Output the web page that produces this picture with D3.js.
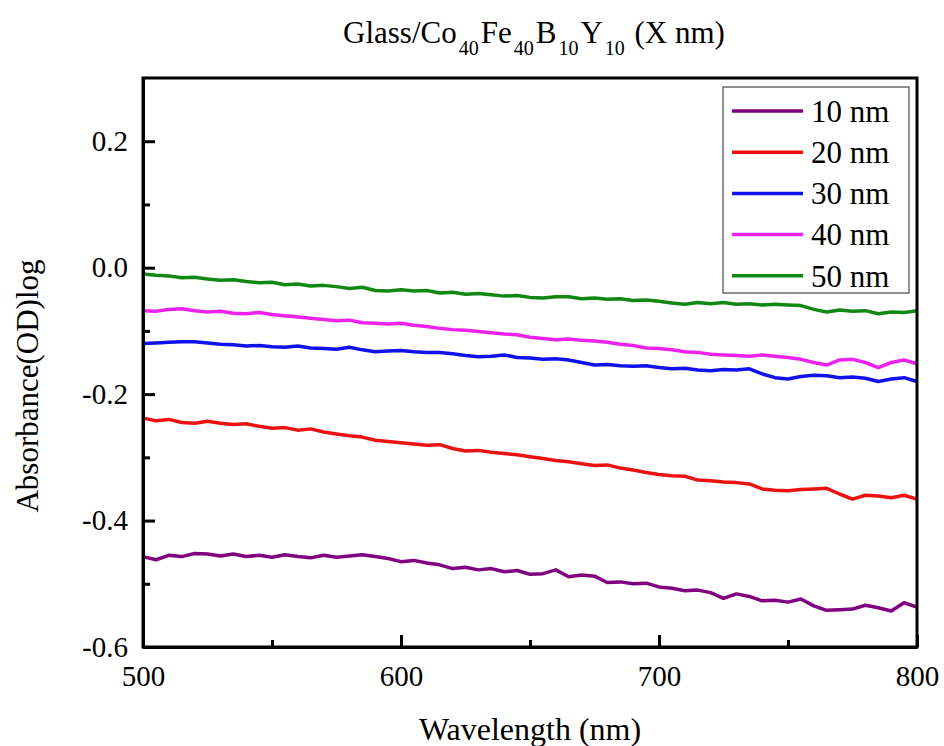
<!DOCTYPE html>
<html lang="en">
<head>
  <meta charset="UTF-8">
  <title>Glass/CoFeBY absorbance</title>
  <style>
    body { margin: 0; background: #fff; }
  </style>
</head>
<body>
  <svg id="svg" width="944" height="746"></svg>

  <script src="https://d3js.org/d3.v7.min.js"></script>
  <script>
    // wavelength grid (nm), 5 nm steps
    const wavelengths = d3.range(500, 801, 5)

    const labels = ['10 nm', '20 nm', '30 nm', '40 nm', '50 nm']
    const colors = ['#800080', '#ee1111', '#1111ee', '#ee22ee', '#118811']

    const abs10 = [-0.457, -0.462, -0.455, -0.457, -0.452, -0.453, -0.456, -0.453, -0.457, -0.455,
      -0.458, -0.454, -0.457, -0.459, -0.455, -0.458, -0.456, -0.454, -0.457, -0.460,
      -0.465, -0.463, -0.467, -0.470, -0.476, -0.474, -0.478, -0.476, -0.481, -0.479,
      -0.485, -0.484, -0.478, -0.489, -0.486, -0.488, -0.498, -0.497, -0.500, -0.499,
      -0.505, -0.507, -0.511, -0.510, -0.514, -0.523, -0.516, -0.520, -0.527, -0.526,
      -0.529, -0.524, -0.535, -0.542, -0.541, -0.540, -0.534, -0.538, -0.543, -0.530, -0.537]

    const abs20 = [-0.238, -0.242, -0.240, -0.245, -0.246, -0.243, -0.246, -0.248, -0.247, -0.251,
      -0.254, -0.253, -0.257, -0.255, -0.260, -0.263, -0.266, -0.268, -0.273, -0.275,
      -0.277, -0.279, -0.281, -0.280, -0.286, -0.290, -0.289, -0.292, -0.294, -0.296,
      -0.299, -0.302, -0.305, -0.307, -0.310, -0.313, -0.312, -0.317, -0.320, -0.324,
      -0.327, -0.329, -0.330, -0.336, -0.337, -0.339, -0.340, -0.342, -0.350, -0.352,
      -0.353, -0.351, -0.350, -0.349, -0.358, -0.366, -0.360, -0.361, -0.364, -0.360, -0.366]

    const abs30 = [-0.120, -0.119, -0.118, -0.117, -0.117, -0.119, -0.121, -0.122, -0.124, -0.123,
      -0.125, -0.126, -0.124, -0.127, -0.128, -0.129, -0.126, -0.130, -0.133, -0.132,
      -0.131, -0.133, -0.134, -0.134, -0.136, -0.139, -0.141, -0.140, -0.138, -0.142,
      -0.143, -0.145, -0.144, -0.146, -0.150, -0.154, -0.153, -0.155, -0.156, -0.155,
      -0.158, -0.160, -0.159, -0.162, -0.163, -0.161, -0.162, -0.160, -0.168, -0.174,
      -0.176, -0.172, -0.170, -0.171, -0.174, -0.173, -0.175, -0.180, -0.176, -0.174, -0.180]

    const abs40 = [-0.068, -0.069, -0.066, -0.065, -0.068, -0.070, -0.069, -0.072, -0.073, -0.071,
      -0.074, -0.076, -0.078, -0.080, -0.082, -0.084, -0.083, -0.087, -0.088, -0.089,
      -0.088, -0.091, -0.093, -0.096, -0.098, -0.099, -0.101, -0.103, -0.105, -0.106,
      -0.110, -0.112, -0.114, -0.113, -0.115, -0.116, -0.118, -0.121, -0.123, -0.127,
      -0.128, -0.130, -0.133, -0.134, -0.137, -0.138, -0.139, -0.140, -0.138, -0.140,
      -0.142, -0.145, -0.150, -0.154, -0.146, -0.145, -0.150, -0.158, -0.150, -0.146, -0.152]

    const abs50 = [-0.010, -0.012, -0.013, -0.016, -0.015, -0.018, -0.020, -0.019, -0.022, -0.024,
      -0.023, -0.027, -0.026, -0.029, -0.028, -0.030, -0.033, -0.031, -0.036, -0.037,
      -0.035, -0.037, -0.036, -0.040, -0.039, -0.042, -0.041, -0.043, -0.045, -0.044,
      -0.047, -0.048, -0.046, -0.046, -0.049, -0.048, -0.050, -0.049, -0.052, -0.051,
      -0.053, -0.056, -0.058, -0.055, -0.057, -0.055, -0.058, -0.057, -0.059, -0.058,
      -0.059, -0.060, -0.066, -0.070, -0.067, -0.069, -0.068, -0.073, -0.070, -0.071, -0.068]

    const xTicks = [500, 600, 700, 800]
    const xMinor = [550, 650, 750]
    const yTicks = [-0.6, -0.4, -0.2, 0, 0.2]
    const yMinor = [-0.5, -0.3, -0.1, 0.1]

    const serif = 'Liberation Serif, Tinos, Times New Roman, Times, serif'

    const series = [abs10, abs20, abs30, abs40, abs50].map((vals, i) => ({
      label: labels[i],
      color: colors[i],
      points: wavelengths.map((w, j) => ({ x: w, y: vals[j] }))
    }))

    const margin = { top: 78, right: 27, bottom: 99, left: 143 }
    const width = 944 - margin.left - margin.right
    const height = 746 - margin.top - margin.bottom

    const svg = d3.select('#svg').attr('font-family', serif)

    const xScale = d3.scaleLinear().domain([500, 800]).range([0, width])
    const yScale = d3.scaleLinear().domain([-0.6, 0.3]).range([height, 0])

    const g = svg.append('g').attr('transform', `translate(${margin.left},${margin.top})`)

    // data lines
    const line = d3.line().x(d => xScale(d.x)).y(d => yScale(d.y))
    g.selectAll('path.series')
      .data(series)
      .enter()
      .append('path')
      .attr('class', 'series')
      .attr('d', d => line(d.points))
      .attr('fill', 'none')
      .attr('stroke', d => d.color)
      .attr('stroke-width', 3.5)
      .attr('stroke-linejoin', 'round')

    // frame (top and right sides have no ticks)
    g.append('rect')
      .attr('width', width).attr('height', height)
      .attr('fill', 'none').attr('stroke', '#000').attr('stroke-width', 3)

    // x axis, ticks pointing in
    g.append('g')
      .attr('transform', `translate(0,${height})`)
      .call(d3.axisBottom(xScale).tickValues(xTicks).tickSizeInner(-12).tickSizeOuter(0)
        .tickPadding(18).tickFormat(d3.format('d')))
    g.append('g')
      .attr('transform', `translate(0,${height})`)
      .call(d3.axisBottom(xScale).tickValues(xMinor).tickSizeInner(-7).tickSizeOuter(0).tickFormat(''))
      .call(a => a.select('.domain').remove())

    // y axis
    g.append('g')
      .call(d3.axisLeft(yScale).tickValues(yTicks).tickSizeInner(-12).tickSizeOuter(0)
        .tickPadding(15).tickFormat(d => d.toFixed(1)))
    g.append('g')
      .call(d3.axisLeft(yScale).tickValues(yMinor).tickSizeInner(-7).tickSizeOuter(0).tickFormat(''))
      .call(a => a.select('.domain').remove())

    g.selectAll('g').attr('font-family', serif).attr('font-size', 29)
    g.selectAll('.tick line').attr('stroke', '#000').attr('stroke-width', 3)
    g.selectAll('.domain').attr('stroke', '#000').attr('stroke-width', 3)
    g.selectAll('.tick text').attr('fill', '#000')

    // axis titles
    svg.append('text')
      .attr('x', margin.left + width / 2)
      .attr('y', 740)
      .attr('text-anchor', 'middle')
      .attr('font-size', 32)
      .text('Wavelength (nm)')

    svg.append('text')
      .attr('transform', 'translate(38,386) rotate(-90)')
      .attr('text-anchor', 'middle')
      .attr('font-size', 31)
      .text('Absorbance(OD)log')

    // chart title with subscripts
    const title = svg.append('text')
      .attr('x', margin.left + width / 2 + 4)
      .attr('y', 43)
      .attr('text-anchor', 'middle')
      .attr('font-size', 31)
    const parts = [['Glass/Co', false], ['40', true], ['Fe', false], ['40', true], ['B', false],
      ['10', true], ['Y', false], ['10', true], [' (X nm)', false]]
    parts.forEach(([t, sub], i) => {
      const prevSub = i > 0 && parts[i - 1][1]
      title.append('tspan')
        .attr('dy', sub ? 12 : (prevSub ? -12 : 0))
        .attr('dx', sub ? 2 : (prevSub ? 2 : 0))
        .attr('font-size', sub ? 20 : 31)
        .text(t)
    })

    // legend
    const legend = svg.append('g').attr('transform', 'translate(723,87)')
    legend.append('rect')
      .attr('width', 186).attr('height', 206)
      .attr('fill', '#fff').attr('stroke', '#555').attr('stroke-width', 1.3)
    const rows = legend.selectAll('g.row')
      .data(series)
      .enter()
      .append('g')
      .attr('class', 'row')
      .attr('transform', (d, i) => `translate(0,${24 + i * 41.2})`)
    rows.append('line')
      .attr('x1', 9).attr('x2', 80)
      .attr('stroke', d => d.color).attr('stroke-width', 3.5)
    rows.append('text')
      .attr('x', 88).attr('dy', '0.35em')
      .attr('font-size', 31)
      .text(d => d.label)
  </script>
</body>
</html>
